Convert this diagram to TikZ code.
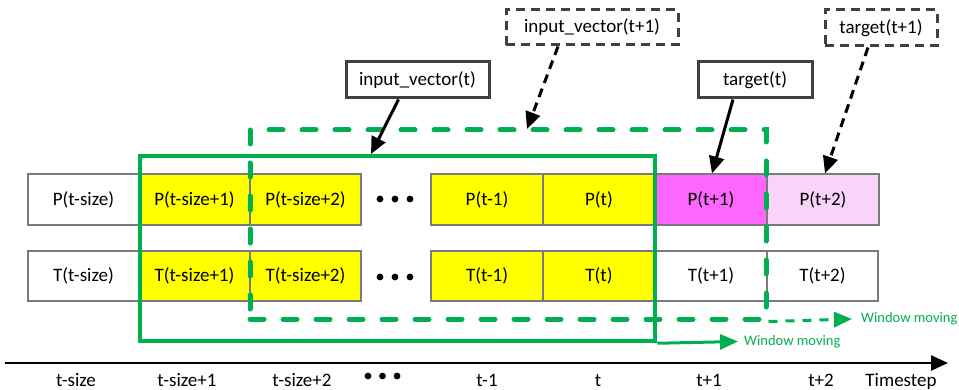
\documentclass[tikz,border=0pt]{standalone}
\usepackage{fontspec}
\setmainfont{Carlito}
\usetikzlibrary{arrows.meta}
\definecolor{wingreen}{HTML}{00B050}
\definecolor{cellgray}{HTML}{7A7A7A}
\definecolor{tagedge}{HTML}{404040}
\definecolor{predmag}{HTML}{FF66FF}
\definecolor{nextpink}{HTML}{F8D4F8}
\definecolor{inyellow}{HTML}{FFFF00}
\begin{document}
\begin{tikzpicture}[x=1pt,y=-1pt,
  txt/.style={font=\fontsize{19}{22}\selectfont},
  cell/.style={txt, draw=cellgray, line width=1.2pt, minimum height=51pt, inner sep=0pt},
  lcell/.style={cell, minimum width=111pt},
  rcell/.style={cell, minimum width=112pt},
  tag/.style={txt, draw=tagedge, line width=3pt, inner sep=0pt},
  nexttag/.style={tag, dash pattern=on 9pt off 6pt},
  pointer/.style={line width=3pt, -{Triangle[length=17pt,width=15pt]}},
  nextpointer/.style={pointer, dash pattern=on 9pt off 6pt},
  window/.style={draw=wingreen, line width=4.5pt, inner sep=0pt},
  nextwindow/.style={window, line width=5pt, line cap=round, dash pattern=on 14pt off 19pt},
  moving/.style={draw=wingreen, line width=3pt, -{Triangle[length=18pt,width=15pt]}},
  nextmoving/.style={moving, dash pattern=on 9pt off 8pt},
  movelabel/.style={text=wingreen, font=\fontsize{14.5}{17}\selectfont, inner sep=0pt},
  axlabel/.style={txt, inner sep=0pt, anchor=base},
  ellipsisdot/.style={fill=black},
]
\useasboundingbox (0,0) rectangle (959,390);

% P row
\node[lcell] (ps0) at (83.5,199.5) {P(t-size)};
\node[lcell, fill=inyellow] (ps1) at (194.5,199.5) {P(t-size+1)};
\node[lcell, fill=inyellow] (ps2) at (305.5,199.5) {P(t-size+2)};
\node[rcell, fill=inyellow] (pm1) at (487,199.5) {P(t-1)};
\node[rcell, fill=inyellow] (pt0) at (599,199.5) {P(t)};
\node[rcell, fill=predmag] (pn1) at (711,199.5) {P(t+1)};
\node[rcell, fill=nextpink] (pn2) at (823,199.5) {P(t+2)};

% T row
\node[lcell, minimum height=50pt] (ts0) at (83.5,276) {T(t-size)};
\node[lcell, minimum height=50pt, fill=inyellow] (ts1) at (194.5,276) {T(t-size+1)};
\node[lcell, minimum height=50pt, fill=inyellow] (ts2) at (305.5,276) {T(t-size+2)};
\node[rcell, minimum height=50pt, fill=inyellow] (tm1) at (487,276) {T(t-1)};
\node[rcell, minimum height=50pt, fill=inyellow] (tt0) at (599,276) {T(t)};
\node[rcell, minimum height=50pt] (tn1) at (711,276) {T(t+1)};
\node[rcell, minimum height=50pt, minimum width=111pt] (tn2) at (822.5,276) {T(t+2)};

% ellipsis dots between the cell groups
\foreach \dx in {380,395,410} {
  \fill[ellipsisdot] (\dx,199) circle (3.4pt);
  \fill[ellipsisdot] (\dx,277) circle (3.4pt);
}

% sliding windows
\node[nextwindow, minimum width=516pt, minimum height=189pt] (nwin) at (508,224.5) {};
\node[window, minimum width=515pt, minimum height=185pt] (win) at (397.5,248.5) {};

\coordinate (winarrow) at (738,341.5);
\coordinate (nwinarrow) at (852,319);
\draw[moving] (win.south east) -- (winarrow);
\draw[nextmoving] (nwin.south east) -- (nwinarrow);
\node[movelabel, anchor=west] (wml) at ([xshift=6pt]winarrow) {Window moving};
\node[movelabel, anchor=west] (nwml) at ([xshift=9pt]nwinarrow) {Window moving};

% vector / target labels
\node[tag, minimum width=143pt, minimum height=36pt] (iv) at (417.5,80) {input\_vector(t)};
\node[nexttag, minimum width=172pt, minimum height=35pt] (iv1) at (592,27.5) {input\_vector(t+1)};
\node[tag, minimum width=114pt, minimum height=36pt] (tg) at (755,80) {target(t)};
\node[nexttag, minimum width=112pt, minimum height=36pt] (tg1) at (881,28) {target(t+1)};

\coordinate (ivtip) at (371,154);
\coordinate (iv1tip) at (527,129);
\draw[pointer] ([xshift=-19pt]iv.south) -- (ivtip);
\draw[nextpointer] ([xshift=-34pt]iv1.south) -- (iv1tip);
\draw[pointer] ([xshift=-22pt]tg.south) -- ([xshift=1pt]pn1.north);
\draw[nextpointer] ([xshift=-13pt]tg1.south) -- ([xshift=2pt]pn2.north);

% time axis
\coordinate (axstart) at (5,363);
\coordinate (axend) at (948,363);
\draw[line width=2.5pt, -{Triangle[length=17pt,width=15pt]}] (axstart) -- (axend);
\node[axlabel] (ax0) at (76,386) {t-size};
\node[axlabel] (ax1) at (187,386) {t-size+1};
\node[axlabel] (ax2) at (302,386) {t-size+2};
\foreach \dx in {368,382.5,397} {
  \fill[ellipsisdot] (\dx,376) circle (3.4pt);
}
\node[axlabel] (ax3) at (487,386) {t-1};
\node[axlabel] (ax4) at (598,386) {t};
\node[axlabel] (ax5) at (709,386) {t+1};
\node[axlabel] (ax6) at (821,386) {t+2};
\node[axlabel] (ax7) at (901,386) {Timestep};
\end{tikzpicture}
\end{document}
